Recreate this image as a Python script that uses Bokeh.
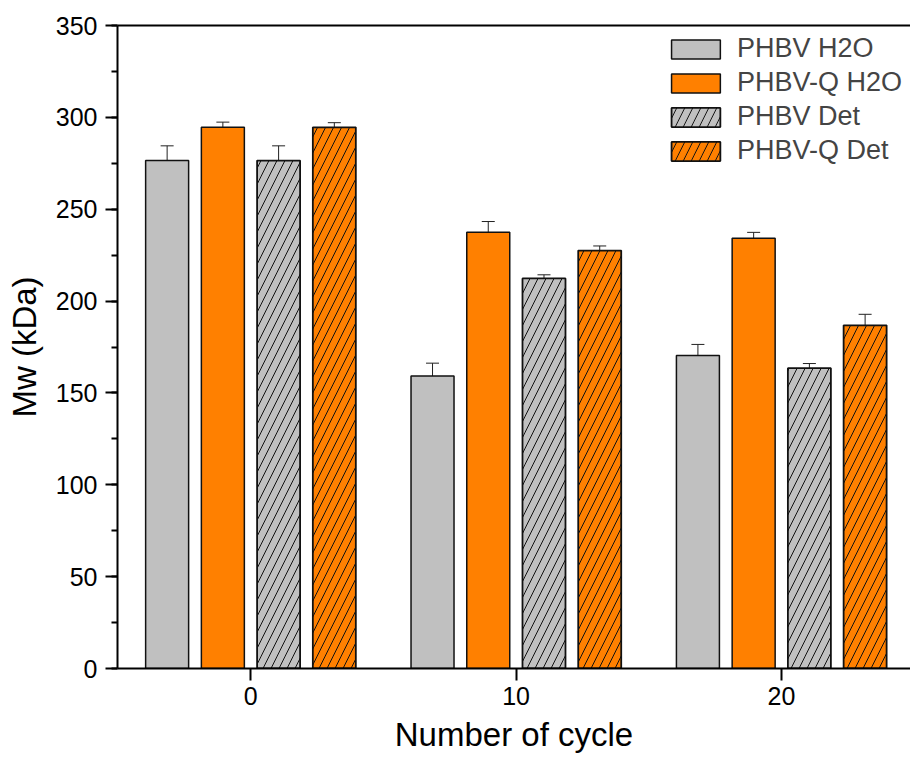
from bokeh.plotting import figure
from bokeh.models import (ColumnDataSource, Whisker, TeeHead, LinearAxis, FixedTicker,
                          SingleIntervalTicker, Range1d, Legend, LegendItem)
from bokeh.transform import dodge
from bokeh.embed import file_html
from bokeh.resources import INLINE

# ---- data ----
cycles = [0, 10, 20]
series_names = ["PHBV H2O", "PHBV-Q H2O", "PHBV Det", "PHBV-Q Det"]
phbv_h2o = [276.5, 159.2, 170.4]
phbv_h2o_err = [8.0, 7.0, 6.0]
phbvq_h2o = [294.6, 237.5, 234.2]
phbvq_h2o_err = [2.8, 5.8, 3.2]
phbv_det = [276.5, 212.3, 163.5]
phbv_det_err = [8.0, 2.0, 2.5]
phbvq_det = [294.6, 227.5, 186.8]
phbvq_det_err = [2.5, 2.5, 6.0]

FONT = "Liberation Sans"
GRAY = "#C0C0C0"
ORANGE = "#FF8000"

p = figure(width=910, height=762, output_backend="svg", toolbar_location=None,
           x_range=Range1d(-5.02, 24.86), y_range=Range1d(0, 350),
           min_border_left=117, min_border_top=25, min_border_bottom=94, min_border_right=0)
p.outline_line_color = None
p.grid.visible = False
p.background_fill_color = "white"

offsets = [-3.15, -1.05, 1.05, 3.15]
vals = [phbv_h2o, phbvq_h2o, phbv_det, phbvq_det]
errs = [phbv_h2o_err, phbvq_h2o_err, phbv_det_err, phbvq_det_err]
fills = [GRAY, ORANGE, GRAY, ORANGE]
hatches = [None, None, "right_diagonal_line", "right_diagonal_line"]

items = []
for name, v, e, off, fc, hp in zip(series_names, vals, errs, offsets, fills, hatches):
    src = ColumnDataSource(dict(cycle=cycles, val=v,
                                upper=[a + b for a, b in zip(v, e)],
                                lower=[a - b for a, b in zip(v, e)]))
    kw = {}
    if hp:
        kw = dict(hatch_pattern=hp, hatch_color="#111111", hatch_scale=16, hatch_weight=1)
    r = p.vbar(x=dodge("cycle", off), top="val", bottom=0, width=1.62, source=src,
               fill_color=fc, line_color="#111111", line_width=1.8 if hp else 1.5, **kw)
    items.append(LegendItem(label=name, renderers=[r]))
    w = Whisker(base=dodge("cycle", off), upper="upper", lower="lower", source=src,
                line_color="#222222", line_width=1,
                upper_head=TeeHead(size=13, line_color="#222222", line_width=1),
                lower_head=TeeHead(size=13, line_color="#222222", line_width=1))
    p.add_layout(w)

# axes
xa = p.xaxis[0]
xa.ticker = FixedTicker(ticks=cycles, minor_ticks=[])
xa.axis_label = "Number of cycle"
ya = p.yaxis[0]
ya.ticker = SingleIntervalTicker(interval=50, num_minor_ticks=2)
ya.axis_label = "Mw (kDa)"
for ax in (xa, ya):
    ax.axis_line_width = 2
    ax.major_tick_line_width = 2
    ax.minor_tick_line_width = 2
    ax.major_tick_out = 12
    ax.major_tick_in = 0
    ax.minor_tick_out = 6
    ax.minor_tick_in = 0
    ax.major_label_text_font = FONT
    ax.major_label_text_font_size = "25px"
    ax.major_label_text_color = "black"
    ax.axis_label_text_font = FONT
    ax.axis_label_text_font_size = "33px"
    ax.axis_label_text_font_style = "normal"
    ax.axis_label_text_color = "black"
    ax.major_label_standoff = 8
xa.major_label_standoff = 6
xa.axis_label_standoff = 8
ya.axis_label_standoff = 10

top_axis = LinearAxis(ticker=FixedTicker(ticks=[]), major_label_text_font_size="0px",
                      axis_line_width=2, major_tick_out=0, minor_tick_out=0,
                      major_tick_in=0, minor_tick_in=0)
p.add_layout(top_axis, "above")

legend = Legend(items=items, location="top_right")
legend.border_line_color = None
legend.background_fill_alpha = 0
legend.label_text_font = FONT
legend.label_text_font_size = "27px"
legend.glyph_width = 61
legend.glyph_height = 24
legend.label_standoff = 11
legend.spacing = 3
legend.padding = 1
legend.margin = 8
p.add_layout(legend)

open("out.html", "w").write(file_html(p, INLINE))
